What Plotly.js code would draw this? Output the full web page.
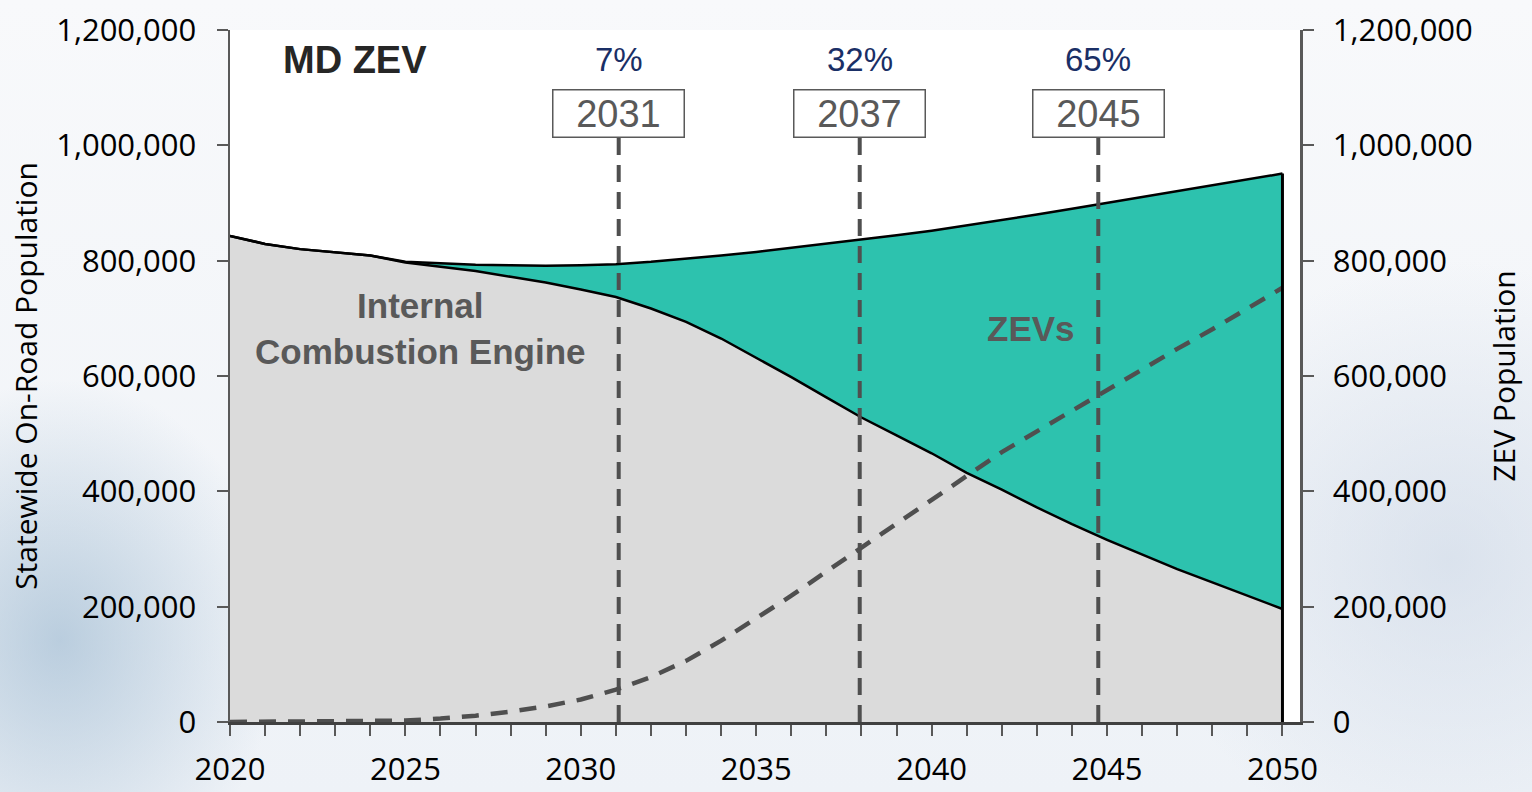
<!DOCTYPE html>
<html>
<head>
<meta charset="utf-8">
<script src="https://cdn.plot.ly/plotly-3.0.1.min.js"></script>
<style>
  html, body { margin: 0; padding: 0; }
  body {
    width: 1532px; height: 792px; overflow: hidden;
    background:
      radial-gradient(ellipse 220px 260px at 60px 640px, rgba(150,180,205,0.6), rgba(150,180,205,0) 100%),
      radial-gradient(ellipse 300px 300px at 1450px 560px, rgba(200,212,228,0.55), rgba(200,212,228,0) 100%),
      linear-gradient(180deg, #f8f9fb 0%, #eef2f7 100%);
  }
  #chart { width: 1532px; height: 792px; }
</style>
</head>
<body>
<div id="chart"></div>
<script>
// ---- data ----
const years = [2020, 2021, 2022, 2023, 2024, 2025, 2026, 2027, 2028, 2029,
               2030, 2031, 2032, 2033, 2034, 2035, 2036, 2037, 2038, 2039,
               2040, 2041, 2042, 2043, 2044, 2045, 2046, 2047, 2048, 2049, 2050];

// statewide on-road population (ICE + ZEV), top of teal area
const totalPop = [843000, 829000, 820000, 815000, 809000, 798000, 795000, 793000, 792000, 791000,
                  792000, 794000, 798000, 803000, 809000, 815000, 822000, 829000, 837000, 844000,
                  852000, 861000, 870000, 880000, 890000, 900000, 910000, 920000, 930000, 940000, 951000];

// internal combustion engine population (top of gray area)
const icePop = [843000, 829000, 820000, 815000, 809000, 797000, 790000, 782000, 772000, 762000,
                750000, 737000, 717000, 694000, 665000, 632000, 598000, 563000, 528000, 497000,
                466000, 432000, 403000, 372000, 343000, 316000, 290000, 265000, 242000, 219000, 196000];

// ZEV population (dashed line, right axis)
const zevPop = [0, 500, 800, 1200, 1600, 2500, 6000, 11000, 18000, 27000,
                39000, 56000, 78000, 106000, 141000, 180000, 219000, 261000, 302000, 343000,
                385000, 427000, 468000, 504000, 540000, 576000, 612000, 647000, 681000, 716000, 753000];

// milestone markers
const markerX = [2031.08, 2037.95, 2044.75];
const markerLabels = ['2031', '2037', '2045'];
const markerShares = ['7%', '32%', '65%'];

const yTicks = [0, 200000, 400000, 600000, 800000, 1000000, 1200000];
const xTicks = [2020, 2025, 2030, 2035, 2040, 2045, 2050];

// ---- styling ----
const tickFont = { family: 'Open Sans, Noto Sans, sans-serif', size: 31, color: '#000000' };
const titleFont = { family: 'Open Sans, Noto Sans, sans-serif', size: 30, color: '#000000' };
const axisGray = '#595959';

const traces = [
  {
    x: years, y: icePop, type: 'scatter', mode: 'lines',
    fill: 'tozeroy', fillcolor: '#DBDBDB',
    line: { color: '#000000', width: 2.5 },
    hoverinfo: 'skip', showlegend: false
  },
  {
    x: years, y: totalPop, type: 'scatter', mode: 'lines',
    fill: 'tonexty', fillcolor: '#2DC2AE',
    line: { color: '#000000', width: 2.5 },
    hoverinfo: 'skip', showlegend: false
  },
  {
    x: years, y: zevPop, type: 'scatter', mode: 'lines', yaxis: 'y2',
    line: { color: '#4F4F4F', width: 4.5, dash: '17px,12px' },
    hoverinfo: 'skip', showlegend: false
  }
];

const shapes = [];
const annotations = [];

// right edge of the area at the last year
const lastI = years.length - 1;
shapes.push({
  type: 'line', xref: 'x', yref: 'y',
  x0: years[lastI], x1: years[lastI], y0: 0, y1: totalPop[lastI],
  line: { color: '#000000', width: 3 }, layer: 'above'
});

markerX.forEach((mx, i) => {
  shapes.push({
    type: 'line', xref: 'x', yref: 'paper',
    x0: mx, x1: mx, y0: 0, y1: 0.846,
    line: { color: '#4F4F4F', width: 4, dash: '17px,10px' }, layer: 'above'
  });
  annotations.push({
    xref: 'x', yref: 'paper', x: mx, y: 0.880,
    text: markerLabels[i], showarrow: false,
    font: { family: 'Liberation Sans, Arial, sans-serif', size: 38, color: '#595959' },
    bgcolor: '#ffffff', bordercolor: '#595959', borderwidth: 1.5, borderpad: 0,
    width: 130, height: 46, xanchor: 'center', yanchor: 'middle'
  });
  annotations.push({
    xref: 'x', yref: 'paper', x: mx, y: 0.957,
    text: markerShares[i], showarrow: false,
    font: { family: 'Liberation Sans, Arial, sans-serif', size: 33, color: '#1A2F66' },
    xanchor: 'center', yanchor: 'middle'
  });
});

annotations.push({
  xref: 'paper', yref: 'paper', x: 0.1168, y: 0.957,
  text: '<b>MD ZEV</b>', showarrow: false,
  font: { family: 'Liberation Sans, Arial, sans-serif', size: 38, color: '#262626' },
  xanchor: 'center', yanchor: 'middle'
});
annotations.push({
  xref: 'paper', yref: 'paper', x: 0.178, y: 0.568,
  text: '<b>Internal<br>Combustion Engine</b>', showarrow: false,
  font: { family: 'Liberation Sans, Arial, sans-serif', size: 35, color: '#595959' },
  xanchor: 'center', yanchor: 'middle', align: 'center'
});
annotations.push({
  xref: 'paper', yref: 'paper', x: 0.7486, y: 0.568,
  text: '<b>ZEVs</b>', showarrow: false,
  font: { family: 'Liberation Sans, Arial, sans-serif', size: 35, color: '#595959' },
  xanchor: 'center', yanchor: 'middle'
});

const yAxisBase = {
  range: [0, 1200000], tickvals: yTicks, tickformat: ',d',
  ticks: 'outside', ticklen: 11, tickwidth: 2, tickcolor: axisGray,
  showline: true, linecolor: axisGray, linewidth: 2.5,
  showgrid: false, zeroline: false, tickfont: tickFont,
  fixedrange: true
};

const layout = {
  width: 1532, height: 792,
  margin: { l: 230, r: 232, t: 30, b: 70 },
  paper_bgcolor: 'rgba(0,0,0,0)',
  plot_bgcolor: '#ffffff',
  showlegend: false,
  xaxis: {
    range: [2020, 2050.5], tickvals: xTicks,
    ticks: 'outside', ticklen: 11, tickwidth: 2, tickcolor: axisGray,
    minor: { dtick: 1, tick0: 2020, ticks: 'outside', ticklen: 11, tickwidth: 2, tickcolor: axisGray },
    showline: true, linecolor: '#404040', linewidth: 2.5,
    showgrid: false, zeroline: false, tickfont: tickFont, fixedrange: true,
    ticklabelstandoff: 7
  },
  yaxis: Object.assign({}, yAxisBase, {
    ticklabelstandoff: 14,
    title: { text: 'Statewide On-Road Population', font: titleFont, standoff: 10 }
  }),
  yaxis2: Object.assign({}, yAxisBase, {
    overlaying: 'y', side: 'right', ticklabelstandoff: 13,
    title: { text: 'ZEV Population', font: titleFont, standoff: 22 }
  }),
  shapes: shapes,
  annotations: annotations
};

Plotly.newPlot('chart', traces, layout, { displayModeBar: false, staticPlot: true });
</script>
</body>
</html>
